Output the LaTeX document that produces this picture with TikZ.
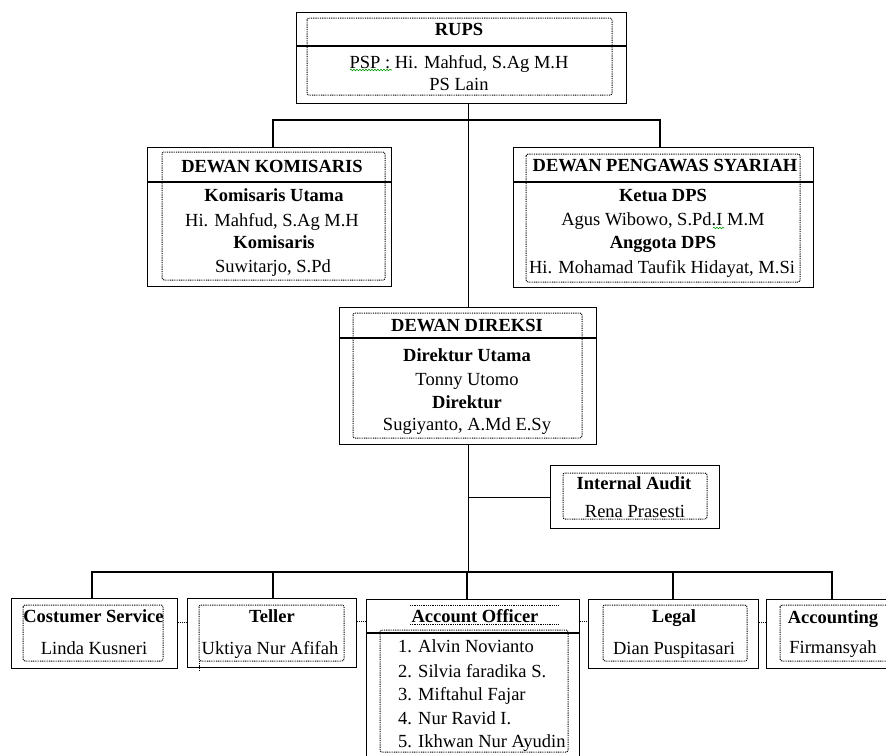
\documentclass[tikz,border=0pt]{standalone}
\usepackage{fontspec}
\setmainfont{Liberation Serif}
\usetikzlibrary{decorations.pathmorphing}
\begin{document}
\begin{tikzpicture}[x=1pt,y=-1pt,
 obox/.style={draw, line width=1.3pt, inner sep=0pt, anchor=north west},
 dbox/.style={draw, line width=1pt, dash pattern=on 0.9pt off 0.9pt, rounded corners=2pt},
 link/.style={draw, line width=1.3pt},
 dlink/.style={draw, line width=1pt, dash pattern=on 0.9pt off 0.9pt},
 t/.style={anchor=base, inner sep=0pt, font=\fontsize{18.5}{22}\selectfont},
 tb/.style={anchor=base, inner sep=0pt, font=\fontsize{18.5}{22}\selectfont\bfseries},
 tl/.style={anchor=base west, inner sep=0pt, font=\fontsize{18.5}{22}\selectfont},
 squig/.style={draw=green!60!black, line width=0.6pt, decorate, decoration={snake, amplitude=0.8pt, segment length=3pt}}]
\useasboundingbox (0,0) rectangle (886,755);

% ---------- boxes ----------
\node[obox, minimum width=330pt, minimum height=91pt] (rups) at (296,12) {};
\node[obox, minimum width=244pt, minimum height=139pt] (kom) at (147,147) {};
\node[obox, minimum width=300pt, minimum height=140pt] (dps) at (513,147) {};
\node[obox, minimum width=257pt, minimum height=137pt] (dir) at (339,307) {};
\node[obox, minimum width=169pt, minimum height=63pt] (audit) at (550,465) {};
\node[obox, minimum width=166pt, minimum height=70pt] (cs) at (11,598) {};
\node[obox, minimum width=169pt, minimum height=69pt] (tel) at (187,598) {};
\node[obox, minimum width=213pt, minimum height=162pt] (ao) at (366,599) {};
\node[obox, minimum width=170pt, minimum height=69pt] (leg) at (588,599) {};
\node[obox, minimum width=130pt, minimum height=69pt] (acc) at (766,599) {};

% dividers
\draw[link] (296,46) -- (626,46);
\draw[link] (147,182) -- (391,182);
\draw[link] (513,182) -- (813,182);
\draw[link] (339,338) -- (596,338);
\draw[link] (366,633) -- (579,633);

% dotted inner frames
\draw[dbox] (307,18) rectangle (612,95);
\draw[dbox] (162,152) rectangle (385,280);
\draw[dbox] (526,154) rectangle (800,282);
\draw[dbox] (353,313) rectangle (582,438);
\draw[dbox] (563,473) rectangle (707,519);
\draw[dbox] (23,605) rectangle (163,661);
\draw[dbox] (199,605) rectangle (344,661);
\draw[dlink] (199,661) -- (199,671);
\draw[dlink] (410,605) -- (559,605);
\draw[dlink] (410,624) -- (559,624);
\draw[dbox] (380,630) rectangle (568,752);
\draw[dbox] (603,605) rectangle (747,661);
\draw[dbox] (780,605) rectangle (900,661);

% ---------- connectors ----------
\coordinate (k1) at (273,120);
\coordinate (d1) at (660,120);
\draw[link] (rups.south -| dir.north) -- (dir.north);
\draw[link] (k1 |- kom.north) -- (k1) -- (d1) -- (d1 |- dps.north);
\coordinate (b1) at (92,572);
\coordinate (b2) at (273,572);
\coordinate (b3) at (467,572);
\coordinate (b4) at (673,572);
\coordinate (b5) at (832,572);
\draw[link] (dir.south) -- (dir.south |- b3);
\draw[link] (dir.south |- audit.west) -- (audit.west);
\draw[link] (b1 |- cs.north) -- (b1) -- (b5) -- (b5 |- acc.north);
\draw[link] (b2) -- (b2 |- tel.north);
\draw[link] (b3) -- (b3 |- ao.north);
\draw[link] (b4) -- (b4 |- leg.north);
\draw[dlink] (cs.east |- 0,622) -- (tel.west |- 0,622);
\draw[dlink] (tel.east |- 0,621) -- (ao.west |- 0,621);
\draw[dlink] (ao.east |- 0,621) -- (leg.west |- 0,621);
\draw[dlink] (leg.east |- 0,622) -- (acc.west |- 0,622);

% ---------- texts ----------
\node[tb] (rupsT) at (459,35) {RUPS};
\node[t] (rupsA) at (459,68) {PSP : Hi. Mahfud, S.Ag M.H};
\node[t] (rupsB) at (459,90) {PS Lain};
\draw[squig] (350,70) -- (392,70);

\node[tb] (komT) at (272,172) {DEWAN KOMISARIS};
\node[tb] (komA) at (274,201) {Komisaris Utama};
\node[t] (komB) at (272,226) {Hi. Mahfud, S.Ag M.H};
\node[tb] (komC) at (274,248) {Komisaris};
\node[t] (komD) at (273,272) {Suwitarjo, S.Pd};

\node[tb] (dpsT) at (665,171) {DEWAN PENGAWAS SYARIAH};
\node[tb] (dpsA) at (663,201) {Ketua DPS};
\node[t] (dpsB) at (663,225) {Agus Wibowo, S.Pd.I M.M};
\draw[squig] (713,228) -- (724,228);
\node[tb] (dpsC) at (663,248) {Anggota DPS};
\node[t] (dpsD) at (662,273) {Hi. Mohamad Taufik Hidayat, M.Si};

\node[tb] (dirT) at (467,331) {DEWAN DIREKSI};
\node[tb] (dirA) at (467,361) {Direktur Utama};
\node[t] (dirB) at (467,385) {Tonny Utomo};
\node[tb] (dirC) at (467,408) {Direktur};
\node[t] (dirD) at (467,430) {Sugiyanto, A.Md E.Sy};

\node[tb] (audT) at (634,489) {Internal Audit};
\node[t] (audA) at (635,517) {Rena Prasesti};

\node[tb] (csT) at (93.5,622) {Costumer Service};
\node[t] (csA) at (94,654) {Linda Kusneri};

\node[tb] (telT) at (272,622) {Teller};
\node[t] (telA) at (270,654) {Uktiya Nur Afifah};

\node[tb] (aoT) at (475,622) {Account Officer};
\node[tl] (ao1) at (398,652) {1. Alvin Novianto};
\node[tl] (ao2) at (398,677) {2. Silvia faradika S.};
\node[tl] (ao3) at (398,700) {3. Miftahul Fajar};
\node[tl] (ao4) at (398,724) {4. Nur Ravid I.};
\node[tl] (ao5) at (398,747) {5. Ikhwan Nur Ayudin};

\node[tb] (legT) at (674,622) {Legal};
\node[t] (legA) at (674,654) {Dian Puspitasari};

\node[tb] (accT) at (833,623) {Accounting};
\node[t] (accA) at (833,653) {Firmansyah};
\end{tikzpicture}
\end{document}
